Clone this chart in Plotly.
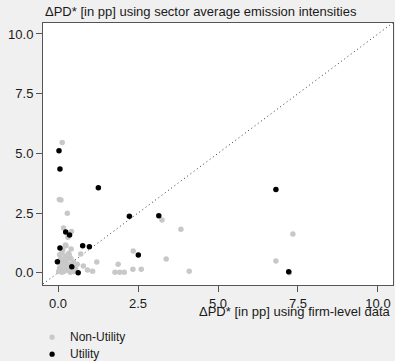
import plotly.graph_objects as go

# Non-Utility firms (firm-level ΔPD*, sector-average ΔPD*)
nonutil_x = [0.13, 0.04, 0.09, 0.29, 0.17, 0.42, 0.31, 0.23, 0.41, 0.71, 1.21, 0.79, 0.92, 1.08,
             3.25, 3.84, 2.35, 3.38, 1.88, 1.78, 1.93, 2.07, 2.34, 2.60, 4.10, 7.34, 6.81, 7.23,
             0.05, 0.08, 0.12, 0.15, 0.20, 0.10, 0.05, 0.25, 0.30, 0.18, 0.35, 0.40, 0.45, 0.50,
             0.55, 0.02, 0.08, 0.12, 0.28, 0.33, 0.22, 0.38, 0.60, 0.00, 0.15, 0.48, 0.26, 0.10,
             0.25, 0.35]
nonutil_y = [5.45, 3.07, 3.05, 2.49, 1.87, 1.73, 1.48, 1.16, 0.99, 0.78, 0.45, 0.28, 0.11, 0.06,
             2.21, 1.82, 0.91, 0.57, 0.35, 0.02, 0.02, 0.02, 0.14, 0.14, 0.06, 1.62, 0.49, 0.00,
             0.75, 0.60, 0.85, 0.50, 0.40, 0.30, 0.20, 0.20, 0.10, 0.05, 0.35, 0.60, 0.20, 0.05,
             0.15, 0.05, 0.12, 0.02, 0.55, 0.80, 0.70, 0.02, 0.35, 0.45, 0.95, 0.45, 0.30, 0.15,
             1.13, 0.74]

# Utility firms
util_x = [0.03, 0.06, 1.26, 2.23, 3.15, 6.81, 0.24, 0.36, 0.77, 0.98, 0.06, 2.51, 0.63, 7.21, -0.02, 0.43]
util_y = [5.11, 4.34, 3.56, 2.36, 2.39, 3.49, 1.71, 1.58, 1.13, 1.09, 1.03, 0.74, 0.00, 0.04, 0.46, 0.25]

series_names = ["Non-Utility", "Utility"]
series_colors = ["#c8c8c8", "#000000"]

axis_range_x = [-0.47, 10.47]
axis_range_y = [-0.515, 10.46]
tick_vals = [0.0, 2.5, 5.0, 7.5, 10.0]
tick_text = ["0.0", "2.5", "5.0", "7.5", "10.0"]

x_title = "ΔPD* [in pp] using firm-level data"
y_title = "ΔPD* [in pp] using sector average emission intensities"

font_family = "Liberation Sans, Arial, sans-serif"

fig = go.Figure()

# 45-degree reference line
fig.add_trace(go.Scatter(
    x=[axis_range_x[0], axis_range_x[1]], y=[axis_range_x[0], axis_range_x[1]],
    mode="lines", line=dict(color="#333333", width=1, dash="1px,3px"),
    showlegend=False, hoverinfo="skip"))

for xs, ys, name, col in [(nonutil_x, nonutil_y, series_names[0], series_colors[0]),
                          (util_x, util_y, series_names[1], series_colors[1])]:
    fig.add_trace(go.Scatter(
        x=xs, y=ys, mode="markers", name=name, showlegend=False,
        marker=dict(color=col, size=5.5, line=dict(width=0))))

axis_common = dict(
    tickvals=tick_vals, ticktext=tick_text, showgrid=False, zeroline=False,
    showline=True, linecolor="#555555", linewidth=1, mirror=True,
    ticks="outside", ticklen=6, tickcolor="#555555", tickwidth=1,
    tickfont=dict(size=13, color="#1a1a1a", family=font_family))

fig.update_xaxes(range=axis_range_x, **axis_common)
fig.update_yaxes(range=axis_range_y, **axis_common)

fig.add_annotation(text=x_title, xref="paper", yref="paper", x=1.0, y=-0.103,
                   xanchor="right", yanchor="middle", showarrow=False,
                   font=dict(size=13, color="#1a1a1a", family=font_family))
fig.add_annotation(text=y_title, xref="paper", yref="paper", x=0.0, y=1.042,
                   xanchor="left", yanchor="middle", showarrow=False,
                   font=dict(size=13, color="#1a1a1a", family=font_family))

# Manual legend below the plot (paper coordinates, pixel-sized symbols)
legend_x = 0.026
legend_y = [-0.199, -0.264]
for name, col, ly in zip(series_names, series_colors, legend_y):
    fig.add_shape(type="circle", xref="paper", yref="paper",
                  xsizemode="pixel", ysizemode="pixel",
                  xanchor=legend_x, yanchor=ly, x0=-2.6, x1=2.6, y0=-2.6, y1=2.6,
                  fillcolor=col, line=dict(width=0))
    fig.add_annotation(text=name, xref="paper", yref="paper", x=legend_x + 0.046, y=ly,
                       xanchor="left", yanchor="middle", showarrow=False,
                       font=dict(size=12, color="#1a1a1a", family=font_family))

fig.update_layout(
    width=395, height=361,
    margin=dict(l=43, r=2, t=23, b=76),
    paper_bgcolor="#f0f0f0", plot_bgcolor="#ffffff",
    font=dict(family=font_family, size=12, color="#1a1a1a"),
    showlegend=False,
)

fig.write_html("out.html")
